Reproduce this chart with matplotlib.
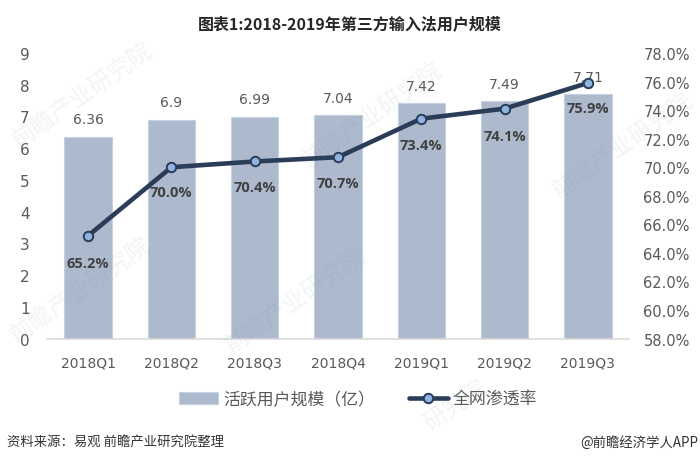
import matplotlib
matplotlib.use('Agg')
import matplotlib.pyplot as plt
from matplotlib.ticker import FuncFormatter

plt.rcParams['font.family'] = ['DejaVu Sans', 'Noto Sans CJK SC']

quarters = ['2018Q1', '2018Q2', '2018Q3', '2018Q4', '2019Q1', '2019Q2', '2019Q3']
users = [6.36, 6.9, 6.99, 7.04, 7.42, 7.49, 7.71]
rate = [65.2, 70.0, 70.4, 70.7, 73.4, 74.1, 75.9]
user_labels = ['6.36', '6.9', '6.99', '7.04', '7.42', '7.49', '7.71']
left_ticks = [0, 1, 2, 3, 4, 5, 6, 7, 8, 9]
right_ticks = [58, 60, 62, 64, 66, 68, 70, 72, 74, 76, 78]

W, H = 700, 464
CJK = ['Noto Sans CJK SC', 'DejaVu Sans']
TICK = '#595959'

fig = plt.figure(figsize=(W / 100, H / 100), dpi=100)

# axes placed in pixels so it lines up with the reference
left, right, top, bottom = 46.5, 629.5, 54, 339.5
ax = fig.add_axes([left / W, 1 - bottom / H, (right - left) / W, (bottom - top) / H])
ax.set_facecolor('none')
ax2 = ax.twinx()

x = list(range(len(quarters)))
bars = ax.bar(x, users, width=0.57, color='#ADB9CD', edgecolor='#C5D0E0', linewidth=0.8,
              label='活跃用户规模（亿）', zorder=2)
line, = ax2.plot(x, rate, color='#2A3C58', lw=3.3, marker='o', ms=6.8, mfc='#8FB4E3',
                 mec='#2A3C58', mew=1.4, label='全网渗透率', zorder=3, solid_capstyle='round')

ax.set_xlim(-0.5, 6.5)
ax.set_ylim(0, 9)
ax2.set_ylim(58, 78)
ax.set_xticks(x, quarters)
ax.set_yticks(left_ticks)
ax2.set_yticks(right_ticks)
ax2.yaxis.set_major_formatter(FuncFormatter(lambda v, p: f'{v:.1f}%'))

for a in (ax, ax2):
    for s in a.spines.values():
        s.set_visible(False)
ax.spines['bottom'].set_visible(True)
ax.spines['bottom'].set_color('#D9D9D9')
ax.spines['bottom'].set_linewidth(1.2)

ax.tick_params(axis='x', length=0, pad=12, labelsize=10, labelcolor=TICK)
ax.tick_params(axis='y', length=0, pad=12, labelsize=11, labelcolor=TICK)
ax2.tick_params(axis='y', length=0, pad=10, labelsize=10.5, labelcolor=TICK)

# value labels
user_off = [11, 11, 11, 10, 10, 10, 10]
for i, lab in enumerate(user_labels):
    ax.annotate(lab, (i, users[i]), xytext=(0, user_off[i]), textcoords='offset pixels',
                ha='center', va='bottom', fontsize=10, color='#595959', zorder=5)
rate_off = [-27, -25, -26, -26, -26, -27, -25]
for i in x:
    ax2.annotate(f'{rate[i]:.1f}%', (i, rate[i]), xytext=(0, rate_off[i]), textcoords='offset pixels',
                 ha='center', va='center', fontsize=10.5, fontweight='bold', color='#404040',
                 family='Open Sans', zorder=6)

fig.text(350 / W, 1 - 24 / H, '图表1:2018-2019年第三方输入法用户规模', ha='center', va='center',
         fontsize=11.5, fontweight='bold', color='#262626', family=CJK)

leg = fig.legend(handles=[bars, line], loc='center', bbox_to_anchor=(358 / W, 1 - 400 / H),
                 ncol=2, frameon=False, prop={'family': CJK, 'size': 12.2}, labelcolor='#595959',
                 handlelength=2.3, columnspacing=2.0, handletextpad=0.3)

fig.text(7 / W, 1 - 443 / H, '资料来源：易观 前瞻产业研究院整理', ha='left', va='center',
         fontsize=9.6, color='#333333', family=CJK)
fig.text(698 / W, 1 - 443 / H, '@前瞻经济学人APP', ha='right', va='center',
         fontsize=9.6, color='#333333', family=CJK)

# faint watermarks, kept inside the picture
marks = [(82, 95), (372, 115), (622, 145), (80, 290), (295, 300)]
for mx, my in marks:
    fig.text(mx / W, 1 - my / H, '前瞻产业研究院', rotation=35, ha='center', va='center',
             fontsize=17, color='#7F8FA8', alpha=0.10, family=CJK, zorder=10)
fig.text(455 / W, 1 - 405 / H, '研究院', rotation=35, ha='center', va='center',
         fontsize=17, color='#7F8FA8', alpha=0.10, family=CJK, zorder=10)

fig.savefig('out.png', dpi=100)
plt.close()
